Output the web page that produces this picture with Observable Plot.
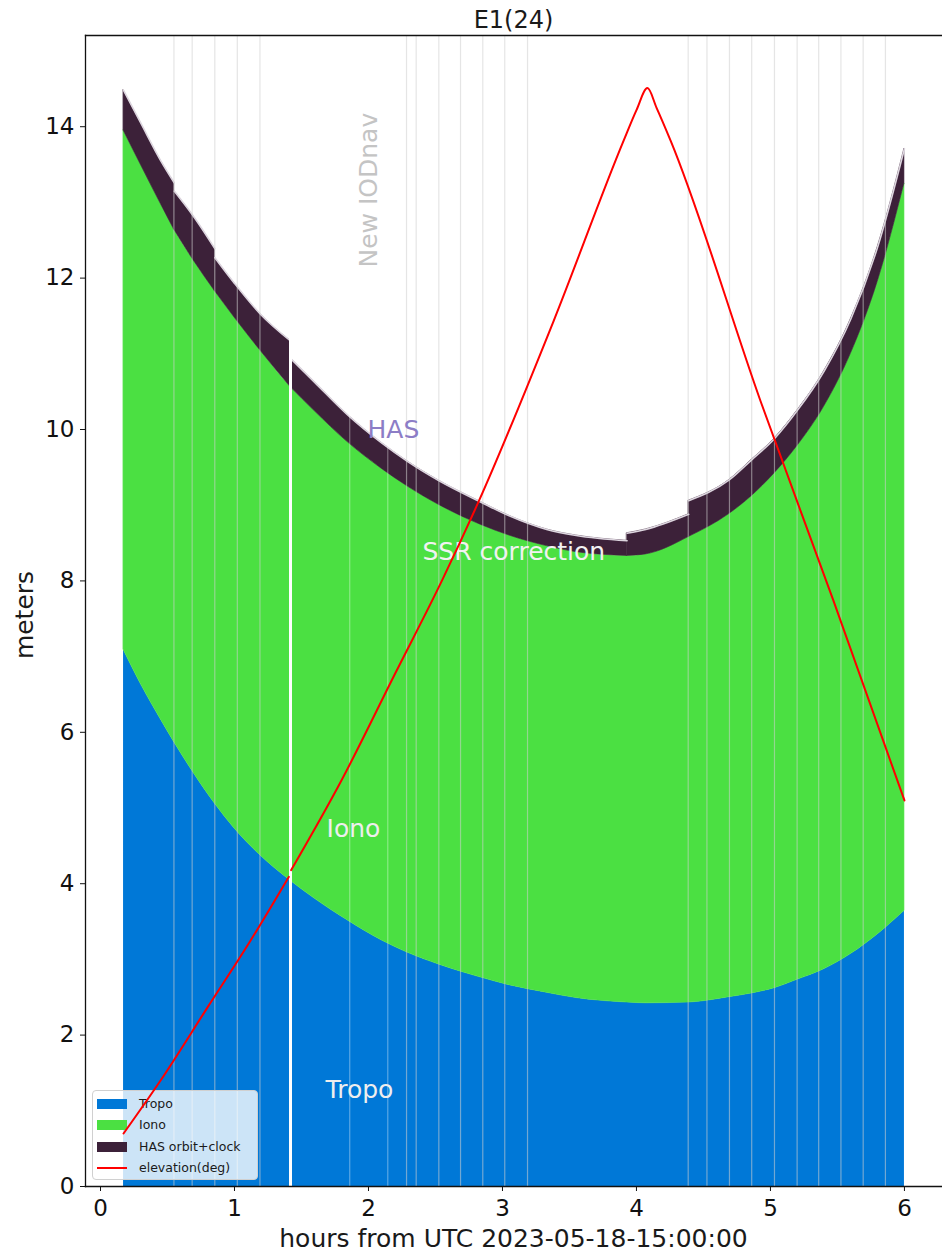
<!DOCTYPE html>
<html><head><meta charset="utf-8">
<script src="https://cdn.jsdelivr.net/npm/d3@7"></script>
<script src="https://cdn.jsdelivr.net/npm/@observablehq/plot@0.6"></script>
<style>
body{margin:0;background:#fff;font-family:"DejaVu Sans",sans-serif;}
#wrap{position:relative;width:942px;height:1252px;overflow:hidden;background:#fff;}
#wrap svg{position:absolute;left:0;top:0;}
.lab{position:absolute;color:#1a1a1a;white-space:nowrap;font-family:"DejaVu Sans";line-height:1;}
#legend{position:absolute;left:92px;top:1090px;width:164px;height:88px;background:rgba(255,255,255,0.8);border:1px solid #d0d0d0;border-radius:4px;font-size:12.5px;color:#1a1a1a;}
.row{position:absolute;left:0;height:20px;width:164px;}
.sw{position:absolute;left:4px;top:5px;width:30px;height:10px;}
.ln{position:absolute;left:4px;top:9px;width:30px;height:2px;background:#ff0000;}
.tx{position:absolute;left:46px;top:1px;line-height:18px;}
</style></head>
<body><div id="wrap"></div>
<script>
// ---- data ----
const hours    = [0.172,0.30,0.45,0.55,0.70,0.853,1.00,1.19,1.418,1.60,1.84,2.10,2.29,2.53,2.84,3.05,3.33,3.55,3.93,4.07,4.39,4.69,4.86,5.03,5.20,5.40,5.60,5.80,6.00];
const tropoTop = [7.09,6.64,6.17,5.87,5.45,5.06,4.73,4.38,4.04,3.80,3.52,3.25,3.09,2.93,2.76,2.66,2.56,2.49,2.43,2.42,2.43,2.50,2.55,2.62,2.73,2.87,3.07,3.33,3.64];
const ionoTop  = [13.95,13.50,12.98,12.64,12.22,11.83,11.48,11.05,10.56,10.24,9.84,9.48,9.25,9.00,8.74,8.60,8.46,8.38,8.33,8.35,8.58,8.88,9.12,9.42,9.78,10.30,11.00,11.95,13.25];
const hasTop   = [14.48,14.05,13.55,13.26,12.80,12.39,11.93,11.53,11.17,10.62,10.20,9.82,9.58,9.32,9.04,8.86,8.68,8.60,8.53,8.68,8.88,9.33,9.60,9.88,10.25,10.77,11.46,12.41,13.71];
// HAS correction jumps: value just after each step time
const hasStepHours = [0.55,0.853,1.418,3.93,4.39];
const hasStepAfter = [13.15,12.27,10.94,8.63,9.06];

const elevHours = [0.172,0.448,0.80,1.12,1.405, 1.423,1.80,2.20,2.55,2.82,3.383,3.905,4.00,4.082,4.15,4.254,4.925,5.47,6.00];
const elevVals  = [0.70,1.40,2.37,3.25,4.09, 4.18,5.37,6.78,8.01,9.04,11.44,13.82,14.22,14.51,14.25,13.82,10.38,7.74,5.10];
const elevSeg   = [0,0,0,0,0, 1,1,1,1,1,1,1,1,1,1,1,1,1,1];

const iodLines = [0.548,0.684,0.853,1.021,1.190,2.284,2.356,2.525,2.687,2.853,3.017,3.187,4.386,4.526,4.694,4.860,5.030,5.199,5.360,5.526,5.692,5.858];
const hasLines = [1.860,2.144];
const gapLine  = [1.418];

const xTicks = [0,1,2,3,4,5,6];
const yTicks = [0,2,4,6,8,10,12,14];

const layerNames  = ["Tropo","Iono","HAS orbit+clock","elevation(deg)"];
const layerColors = ["#0078d7","#4be042","#3c2139","#ff0000"];

const annotations = [
  {text:"HAS", t:1.993, v:10.0, color:"#8c7dc6"},
  {text:"SSR correction", t:2.403, v:8.38, color:"#f2f2f2"},
  {text:"Iono", t:1.687, v:4.72, color:"#eeeeee"},
  {text:"Tropo", t:1.68, v:1.28, color:"#eeeeee"}
];
const iodLabel = [{text:"New IODnav", t:2.007, v:12.14}];

// ---- build tables ----
const rows = hours.map((t,i)=>({t, tropo:tropoTop[i], iono:ionoTop[i]}));
const hasRows = [];
{
  let seg = 0;
  hours.forEach((t,i)=>{
    hasRows.push({t, lo:ionoTop[i], hi:hasTop[i], seg});
    const k = hasStepHours.indexOf(t);
    if (k >= 0) { seg++; hasRows.push({t, lo:ionoTop[i], hi:hasStepAfter[k], seg}); }
  });
}
const elev = elevHours.map((t,i)=>({t, v:elevVals[i], seg:elevSeg[i]}));

const FONT = "DejaVu Sans";
const CURVE = "monotone-x";
const base = {
  width: 942, height: 1252,
  marginTop: 35, marginBottom: 66, marginLeft: 85, marginRight: 0,
  style: {fontFamily: FONT, color: "#111", background: "transparent"}
};
const mainPlot = Plot.plot({
  ...base,
  x: {domain: [-0.112, 6.284]},
  y: {domain: [0, 15.205]},
  marks: [
    Plot.areaY(rows, {x:"t", y1:0, y2:"tropo", fill:layerColors[0], curve:CURVE}),
    Plot.areaY(rows, {x:"t", y1:"tropo", y2:"iono", fill:layerColors[1], stroke:layerColors[1], strokeWidth:0.6, curve:CURVE}),
    Plot.areaY(hasRows, {x:"t", y1:"lo", y2:"hi", z:"seg", fill:layerColors[2], stroke:layerColors[2], strokeWidth:0.6, curve:CURVE}),
    Plot.lineY(hasRows, {x:"t", y:"hi", z:"seg", stroke:"#ddd6df", strokeWidth:1.6, curve:CURVE}),
    Plot.ruleX(iodLines, {stroke:"#d0d0d0", strokeOpacity:0.55, strokeWidth:1.2}),
    Plot.ruleX(hasLines, {stroke:"#ffffff", strokeOpacity:0.35, strokeWidth:1.2}),
    Plot.ruleX(gapLine, {stroke:"#ffffff", strokeWidth:3}),
    ...annotations.map(a => Plot.text([a], {x:"t", y:"v", text:"text", fill:a.color, fontSize:25, textAnchor:"start", lineAnchor:"middle", fontFamily:FONT})),
    Plot.text(iodLabel, {x:"t", y:"v", text:"text", fill:"#c4c4c4", fontSize:25, rotate:-90, textAnchor:"start", lineAnchor:"middle", fontFamily:FONT}),
    Plot.frame({anchor:"left", stroke:"#111", strokeWidth:1.3}),
    Plot.frame({anchor:"top", stroke:"#111", strokeWidth:1.3}),
    Plot.frame({anchor:"bottom", stroke:"#111", strokeWidth:1.3}),
    Plot.axisX({ticks:xTicks, tickSize:5, tickPadding:8, fontSize:23, label:null, tickFormat:d=>String(d)}),
    Plot.axisY({ticks:yTicks, tickSize:5, tickPadding:6, fontSize:23, label:null, tickFormat:d=>String(d)})
  ]
});
const wrap = document.getElementById("wrap");
wrap.appendChild(mainPlot);

function addLab(text, css){ const d=document.createElement("div"); d.className="lab"; d.textContent=text; Object.assign(d.style, css); wrap.appendChild(d); return d; }
addLab("E1(24)", {left:"85px", width:"857px", textAlign:"center", top:"8px", fontSize:"24px"});
addLab("hours from UTC 2023-05-18-15:00:00", {left:"85px", width:"857px", textAlign:"center", top:"1226px", fontSize:"25px"});
addLab("meters", {left:"24px", top:"615px", fontSize:"25px", transform:"translate(-50%,-50%) rotate(-90deg)"});

const lg = document.createElement("div"); lg.id="legend"; wrap.appendChild(lg);
layerNames.forEach((n,i)=>{
  const r=document.createElement("div"); r.className="row"; r.style.top=(3+i*21.3)+"px";
  const s=document.createElement("div"); s.className = i<3 ? "sw" : "ln"; s.style.background=layerColors[i];
  const t=document.createElement("div"); t.className="tx"; t.textContent=n;
  r.appendChild(s); r.appendChild(t); lg.appendChild(r);
});

// elevation line drawn on top (above the legend), same scales, no axes
const overlayPlot = Plot.plot({
  ...base,
  x: {domain: [-0.112, 6.284], axis: null},
  y: {domain: [0, 15.205], axis: null},
  marks: [Plot.line(elev, {x:"t", y:"v", z:"seg", stroke:layerColors[3], strokeWidth:2, curve:CURVE})]
});
overlayPlot.style.pointerEvents = "none";
wrap.appendChild(overlayPlot);
</script></body></html>
